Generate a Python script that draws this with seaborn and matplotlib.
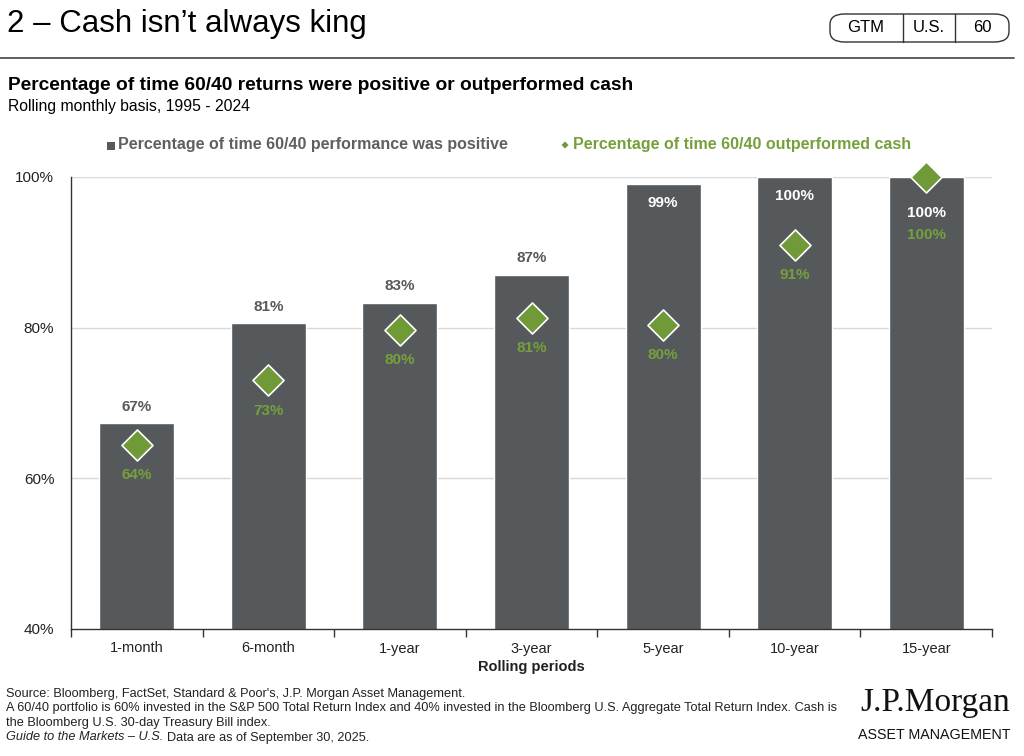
import matplotlib
matplotlib.use("Agg")
import matplotlib.pyplot as plt
from matplotlib.patches import FancyBboxPatch, Rectangle, Polygon
from matplotlib.lines import Line2D
import seaborn as sns
import pandas as pd

# ---- data ----
periods = ["1-month", "6-month", "1-year", "3-year", "5-year", "10-year", "15-year"]
positive = [67.3, 80.6, 83.3, 87.0, 99.1, 100.0, 100.0]
outperformed_cash = [64.4, 73.0, 79.7, 81.3, 80.4, 91.0, 100.0]
yticks = [40, 60, 80, 100]
ytick_labels = ["40%", "60%", "80%", "100%"]

BAR = "#55595c"
GREEN = "#6f9a37"
GREEN_TXT = "#76a03b"
GRAY_TXT = "#595959"

sns.set_theme(style="white")
plt.rcParams["font.family"] = ["Liberation Sans", "DejaVu Sans"]

W, H = 1024, 756
fig = plt.figure(figsize=(W / 100, H / 100), dpi=100)

def fx(px):
    return px / W

def fy(py):
    return 1 - py / H

ax = fig.add_axes([fx(71), fy(629), fx(992) - fx(71), fy(177) - fy(629)])

df = pd.DataFrame({"period": periods, "positive": positive, "cash": outperformed_cash})

for g in [60, 80, 100]:
    ax.axhline(g, color="#d9d9d9", lw=1, zorder=0)

sns.barplot(data=df, x="period", y="positive", color=BAR, width=0.57,
            saturation=1, ax=ax, zorder=2)
sns.scatterplot(data=df, x="period", y="cash", marker="D", s=250, color=GREEN,
                edgecolor="white", linewidth=1.2, ax=ax, zorder=4, clip_on=False)

ax.set_ylim(40, 100)
ax.set_xlim(-0.5, len(periods) - 0.5)
ax.set_yticks(yticks)
ax.set_yticklabels(ytick_labels, fontsize=11, color="#222222")
ax.set_xticks(range(len(periods)))
ax.set_xticklabels(periods, fontsize=10.5, color="#222222")
ax.set_xticks([i - 0.5 for i in range(len(periods) + 1)], minor=True)
ax.tick_params(axis="x", which="major", length=0, pad=9)
ax.tick_params(axis="x", which="minor", length=6, width=1, color="#333333", direction="out", bottom=True)
ax.tick_params(axis="y", length=0, pad=12)
ax.set_xlabel("Rolling periods", fontsize=10.5, fontweight="bold", color="#222222", labelpad=3)
ax.set_ylabel("")
for s in ["top", "right"]:
    ax.spines[s].set_visible(False)
for s in ["left", "bottom"]:
    ax.spines[s].set_color("#333333")
    ax.spines[s].set_linewidth(1)

# ---- data labels ----
LBL = 11
for i, (p, c) in enumerate(zip(positive, outperformed_cash)):
    if p >= 99:
        if c >= 99:
            ax.text(i, p - 4.8, f"{round(p)}%", ha="center", va="center", fontsize=LBL,
                    fontweight="bold", color="white", zorder=5)
            ax.text(i, p - 7.7, f"{round(c)}%", ha="center", va="center", fontsize=LBL,
                    fontweight="bold", color=GREEN_TXT, zorder=5)
            continue
        ax.text(i, p - 2.5, f"{round(p)}%", ha="center", va="center", fontsize=LBL,
                fontweight="bold", color="white", zorder=5)
    else:
        ax.text(i, p + 2.2, f"{round(p)}%", ha="center", va="center", fontsize=LBL,
                fontweight="bold", color=GRAY_TXT, zorder=5)
    ax.text(i, c - 4.0, f"{round(c)}%", ha="center", va="center", fontsize=LBL,
            fontweight="bold", color=GREEN_TXT, zorder=5)

# ---- legend ----
fig.add_artist(Rectangle((fx(107), fy(150)), fx(8), 8 / H, transform=fig.transFigure,
                         facecolor=BAR, edgecolor="none"))
fig.text(fx(118), fy(145), "Percentage of time 60/40 performance was positive", fontsize=11.5,
         fontweight="bold", color="#5f5f5f", va="center", ha="left")
dcx, dcy = 565, 145
fig.add_artist(Polygon([(fx(dcx - 3.5), fy(dcy)), (fx(dcx), fy(dcy - 3.5)),
                        (fx(dcx + 3.5), fy(dcy)), (fx(dcx), fy(dcy + 3.5))],
                       closed=True, transform=fig.transFigure, facecolor=GREEN, edgecolor="none"))
fig.text(fx(573), fy(145), "Percentage of time 60/40 outperformed cash", fontsize=11.5,
         fontweight="bold", color=GREEN_TXT, va="center", ha="left")

# ---- header ----
fig.text(fx(7), fy(24), "2 \u2013 Cash isn\u2019t always king", fontsize=22.5, color="black",
         va="center", ha="left")
fig.add_artist(Line2D([0, fx(1014)], [fy(58), fy(58)], color="#444444", lw=1.2,
                      transform=fig.transFigure))
badge = FancyBboxPatch((fx(830), fy(42)), fx(1009) - fx(830), fy(14) - fy(42),
                       boxstyle="round,pad=0,rounding_size=0.014", transform=fig.transFigure,
                       facecolor="white", edgecolor="#333333", lw=1)
fig.add_artist(badge)
for xd in [903, 955]:
    fig.add_artist(Line2D([fx(xd), fx(xd)], [fy(42), fy(14)], color="#333333", lw=1,
                          transform=fig.transFigure))
for xc, t in [(866, "GTM"), (929, "U.S."), (982, "60")]:
    fig.text(fx(xc), fy(28), t, fontsize=12, ha="center", va="center", color="black")

fig.text(fx(8), fy(85), "Percentage of time 60/40 returns were positive or outperformed cash",
         fontsize=13.8, fontweight="bold", color="black", va="center", ha="left")
fig.text(fx(8), fy(106), "Rolling monthly basis, 1995 - 2024", fontsize=11.3, color="black",
         va="center", ha="left")

# ---- footnotes ----
FN = 9.2
foot = [
    "Source: Bloomberg, FactSet, Standard & Poor's, J.P. Morgan Asset Management.",
    "A 60/40 portfolio is 60% invested in the S&P 500 Total Return Index and 40% invested in the Bloomberg U.S. Aggregate Total Return Index. Cash is",
    "the Bloomberg U.S. 30-day Treasury Bill index.",
]
for k, line in enumerate(foot):
    fig.text(fx(6), fy(694 + k * 14.5), line, fontsize=FN, color="#222222", va="center", ha="left")
it = fig.text(fx(6), fy(737.5), "Guide to the Markets \u2013 U.S.", fontsize=FN, style="italic",
              color="#222222", va="center", ha="left")
fig.canvas.draw()
bb = it.get_window_extent()
fig.text((bb.x1 + 4) / W, fy(737.5), "Data are as of September 30, 2025.", fontsize=FN,
         color="#222222", va="center", ha="left")

fig.text(fx(1010), fy(703), "J.P.Morgan", fontsize=24, family=["Liberation Serif", "DejaVu Serif"],
         color="#111111", va="center", ha="right")
fig.text(fx(1010), fy(735), "ASSET MANAGEMENT", fontsize=10.3, color="#111111", va="center",
         ha="right")

fig.savefig("out.png", dpi=100)
